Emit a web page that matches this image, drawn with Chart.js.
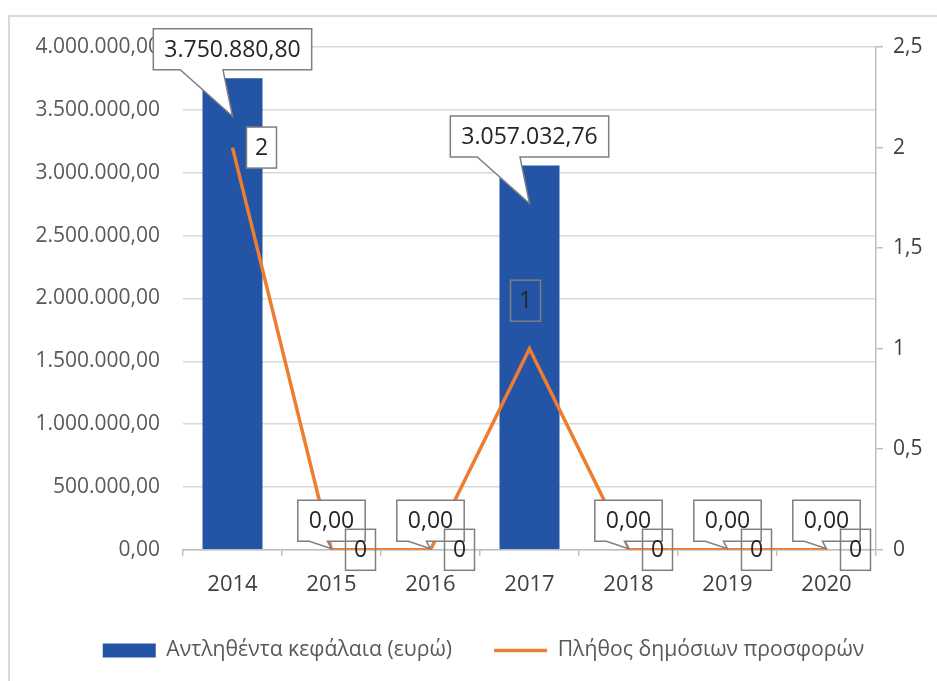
<!DOCTYPE html>
<html><head><meta charset="utf-8">
<script src="https://cdn.jsdelivr.net/npm/chart.js@4.4.1/dist/chart.umd.min.js"></script>
<style>html,body{margin:0;padding:0;background:#fff;overflow:hidden}#wrap{width:937px;height:681px;position:relative}</style>
</head><body><div id="wrap"><canvas id="c" width="937" height="681"></canvas></div>
<script>
const categories = ['2014', '2015', '2016', '2017', '2018', '2019', '2020'];
const capitalRaised = [3750880.80, 0, 0, 3057032.76, 0, 0, 0];
const publicOffers = [2, 0, 0, 1, 0, 0, 0];
const leftTicks = [0, 500000, 1000000, 1500000, 2000000, 2500000, 3000000, 3500000, 4000000];
const rightTicks = [0, 0.5, 1, 1.5, 2, 2.5];
const seriesNames = ['Αντληθέντα κεφάλαια (ευρώ)', 'Πλήθος δημόσιων προσφορών'];

const FONT = "'Open Sans', 'Noto Sans', sans-serif";
const BLUE = '#2354a5';
const ORANGE = '#ED7D31';

function fmtMoney(v) {
  const s = Math.abs(v).toFixed(2);
  let [ip, dp] = s.split('.');
  ip = ip.replace(/\B(?=(\d{3})+(?!\d))/g, '.');
  return (v < 0 ? '-' : '') + ip + ',' + dp;
}
function fmtNum(v) { return String(v).replace('.', ','); }

function drawCallout(ctx, cx, cy, w, h, tipX, tipY) {
  const l = cx - w / 2, r = cx + w / 2, t = cy - h / 2, b = cy + h / 2;
  const b1 = cx - 0.33 * w, b2 = cx - 0.06 * w;
  ctx.beginPath();
  ctx.moveTo(l, t); ctx.lineTo(r, t); ctx.lineTo(r, b); ctx.lineTo(b2, b);
  ctx.lineTo(tipX, tipY); ctx.lineTo(b1, b); ctx.lineTo(l, b); ctx.closePath();
  ctx.fillStyle = '#ffffff'; ctx.fill();
  ctx.lineWidth = 1.5; ctx.strokeStyle = '#7f7f7f'; ctx.stroke();
}

const framePlugin = {
  id: 'frame',
  beforeDraw(chart) {
    const ctx = chart.ctx;
    ctx.save();
    ctx.strokeStyle = '#d9d9d9'; ctx.lineWidth = 2;
    ctx.beginPath();
    ctx.moveTo(9, 700); ctx.lineTo(9, 16); ctx.lineTo(960, 16);
    ctx.stroke();
    ctx.restore();
  }
};

const labelPlugin = {
  id: 'labels',
  afterDatasetsDraw(chart) {
    const ctx = chart.ctx;
    ctx.save();
    ctx.font = '23px ' + FONT;
    ctx.textAlign = 'center'; ctx.textBaseline = 'middle';
    const barMeta = chart.getDatasetMeta(0);
    barMeta.data.forEach((el, i) => {
      const txt = fmtMoney(capitalRaised[i]);
      const w = ctx.measureText(txt).width + 22, h = 41;
      const cx = el.x, cy = el.y - 29;
      const tipY = Math.min(el.y + 38, el.base - 1);
      drawCallout(ctx, cx, cy, w, h, el.x, tipY);
      ctx.fillStyle = '#262626';
      ctx.fillText(txt, cx, cy + 1);
    });
    const lineMeta = chart.getDatasetMeta(1);
    lineMeta.data.forEach((pt, i) => {
      const txt = fmtNum(publicOffers[i]);
      let cx = pt.x + 29, cy = pt.y;
      let filled = false;
      if (i === 3) { cx = pt.x - 4; cy = pt.y - 48; }
      if (i === 0) { filled = true; }
      const w = 30, h = 41;
      if (filled) { ctx.fillStyle = '#fff'; ctx.fillRect(cx - w / 2, cy - h / 2, w, h); }
      ctx.lineWidth = 1.5; ctx.strokeStyle = '#7f7f7f';
      ctx.strokeRect(cx - w / 2, cy - h / 2, w, h);
      ctx.fillStyle = '#262626';
      ctx.fillText(txt, cx, cy + 1);
    });
    ctx.restore();
  }
};

new Chart(document.getElementById('c'), {
  type: 'bar',
  data: {
    labels: categories,
    datasets: [
      {
        label: seriesNames[0], data: capitalRaised, yAxisID: 'y',
        backgroundColor: BLUE, borderWidth: 0, order: 2,
        categoryPercentage: 1, barPercentage: 0.606, pointStyle: 'rect'
      },
      {
        type: 'line', label: seriesNames[1], data: publicOffers, yAxisID: 'y1',
        borderColor: ORANGE, backgroundColor: ORANGE, borderWidth: 3.5,
        pointRadius: 0, tension: 0, order: 1, pointStyle: 'line'
      }
    ]
  },
  options: {
    responsive: false, animation: false, devicePixelRatio: 1,
    layout: { padding: { left: 30, right: 0, top: 47, bottom: 10 } },
    plugins: {
      tooltip: { enabled: false },
      legend: {
        position: 'bottom',
        labels: {
          usePointStyle: true, pointStyleWidth: 53, boxHeight: 14, padding: 42,
          color: '#595959', font: { family: FONT, size: 21.2 },
          sort: (a, b) => a.datasetIndex - b.datasetIndex
        }
      }
    },
    scales: {
      x: {
        afterFit(s) { s.height = 48; },
        grid: { offset: true, drawOnChartArea: false, drawTicks: true, tickLength: 6, color: '#bfbfbf', lineWidth: 1.5 },
        border: { display: true, color: '#bfbfbf', width: 1.5 },
        ticks: { color: '#404040', font: { family: FONT, size: 22 }, padding: 16, autoSkip: false, maxRotation: 0 }
      },
      y: {
        position: 'left', min: 0, max: 4000000,
        afterFit(s) { s.width = 153; },
        afterBuildTicks(s) { s.ticks = leftTicks.map(v => ({ value: v })); },
        grid: { color: '#d9d9d9', lineWidth: 1.5, drawTicks: false },
        border: { display: false },
        ticks: { color: '#595959', font: { family: FONT, size: 21 }, padding: 23, callback: v => fmtMoney(v) }
      },
      y1: {
        position: 'right', min: 0, max: 2.5,
        afterFit(s) { s.width = 61; },
        afterBuildTicks(s) { s.ticks = rightTicks.map(v => ({ value: v })); },
        grid: { drawOnChartArea: false, drawTicks: true, tickLength: 7, color: '#bfbfbf', lineWidth: 1.5 },
        border: { display: true, color: '#bfbfbf', width: 1.5 },
        ticks: { color: '#404040', font: { family: FONT, size: 21 }, padding: 10, callback: v => fmtNum(v) }
      }
    }
  },
  plugins: [framePlugin, labelPlugin]
});
</script></body></html>
